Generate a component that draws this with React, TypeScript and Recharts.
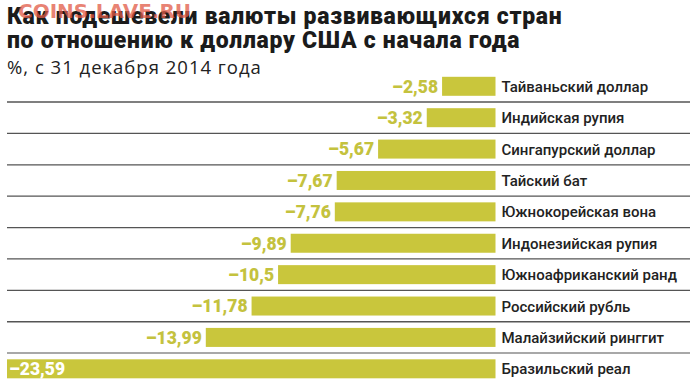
import React from "react";
import { BarChart, Bar, XAxis, YAxis, LabelList } from "recharts";

const currencies = [
  "Тайваньский доллар",
  "Индийская рупия",
  "Сингапурский доллар",
  "Тайский бат",
  "Южнокорейская вона",
  "Индонезийская рупия",
  "Южноафриканский ранд",
  "Российский рубль",
  "Малайзийский ринггит",
  "Бразильский реал",
];
const changes = [-2.58, -3.32, -5.67, -7.67, -7.76, -9.89, -10.5, -11.78, -13.99, -23.59];

const title1 = "Как подешевели валюты развивающихся стран";
const title2 = "по отношению к доллару США с начала года";
const subtitle = "%, с 31 декабря 2014 года";
const watermark = "COINS.LAVE.RU";

const data = currencies.map((name, i) => ({ name, value: changes[i] }));

const BAR = "#c9c63c";
const VAL = "#c4c23e";
const FONT = "Roboto, 'Noto Sans', sans-serif";

const fmt = (v: number) => "\u2013" + Math.abs(v).toString().replace(".", ",");

const BarShape = (props: any) => {
  const { x, y, width, height, index } = props;
  const left = Math.min(x, x + width);
  const w = Math.abs(width);
  const pitch = 31.4;
  const lineY = y + height / 2 + pitch / 2;
  const isLast = index === data.length - 1;
  const beforeLast = index === data.length - 2;
  return (
    <g>
      <rect x={left} y={y} width={w} height={height} fill={BAR} />
      {!isLast && (
        <line
          x1={7}
          x2={690}
          y1={lineY}
          y2={lineY}
          stroke={beforeLast ? "#a8a8a8" : "#555"}
          strokeWidth={beforeLast ? 2 : 1.3}
        />
      )}
    </g>
  );
};

const ValueLabel = (props: any) => {
  const { x, y, width, height, value } = props;
  const left = Math.min(x, x + width);
  const inside = Math.abs(value) > 20;
  return (
    <text
      x={inside ? left + 2 : left - 4}
      y={y + height / 2}
      dy="0.36em"
      textAnchor={inside ? "start" : "end"}
      fill={inside ? "#ffffff" : VAL}
      fontFamily={FONT}
      fontWeight={900}
      fontSize={17.5}
    >
      {fmt(value)}
    </text>
  );
};

export default function App() {
  return (
    <div
      style={{
        position: "absolute",
        left: 0,
        top: 0,
        width: 696,
        height: 389,
        background: "#fff",
        overflow: "hidden",
        fontFamily: FONT,
      }}
    >
      <div
        style={{
          position: "absolute",
          left: 7,
          top: 5,
          fontSize: 23,
          fontWeight: 900,
          color: "#1b1b1b",
          lineHeight: "24px",
          letterSpacing: 0.7,
          whiteSpace: "nowrap",
        }}
      >
        <div>{title1}</div>
        <div>{title2}</div>
      </div>
      <div
        style={{
          position: "absolute",
          left: 7,
          top: 55,
          fontSize: 18.5,
          fontWeight: 400,
          color: "#222",
          fontFamily: "'Open Sans', sans-serif",
          letterSpacing: 1,
          lineHeight: "24px",
          whiteSpace: "nowrap",
        }}
      >
        {subtitle}
      </div>
      <div
        style={{
          position: "absolute",
          left: 18,
          top: -1,
          fontSize: 20,
          fontWeight: 700,
          color: "rgba(225,90,70,0.75)",
          fontFamily: "'DejaVu Sans', sans-serif",
          whiteSpace: "nowrap",
        }}
      >
        {watermark}
      </div>
      <div style={{ position: "absolute", left: 0, top: 0 }}>
        <BarChart
          width={696}
          height={389}
          data={data}
          layout="vertical"
          margin={{ top: 70.8, right: 0, bottom: 4.3, left: 7 }}
          barCategoryGap={0}
        >
          <XAxis type="number" domain={[-23.59, 0]} hide />
          <YAxis
            type="category"
            dataKey="name"
            orientation="right"
            width={200.5}
            axisLine={false}
            tickLine={false}
            tickMargin={0}
            tick={{ fill: "#222", fontSize: 15, fontWeight: 500, fontFamily: FONT, textAnchor: "start" }}
            interval={0}
          />
          <Bar dataKey="value" barSize={19} shape={<BarShape />} isAnimationActive={false}>
            <LabelList dataKey="value" content={<ValueLabel />} />
          </Bar>
        </BarChart>
      </div>
    </div>
  );
}
